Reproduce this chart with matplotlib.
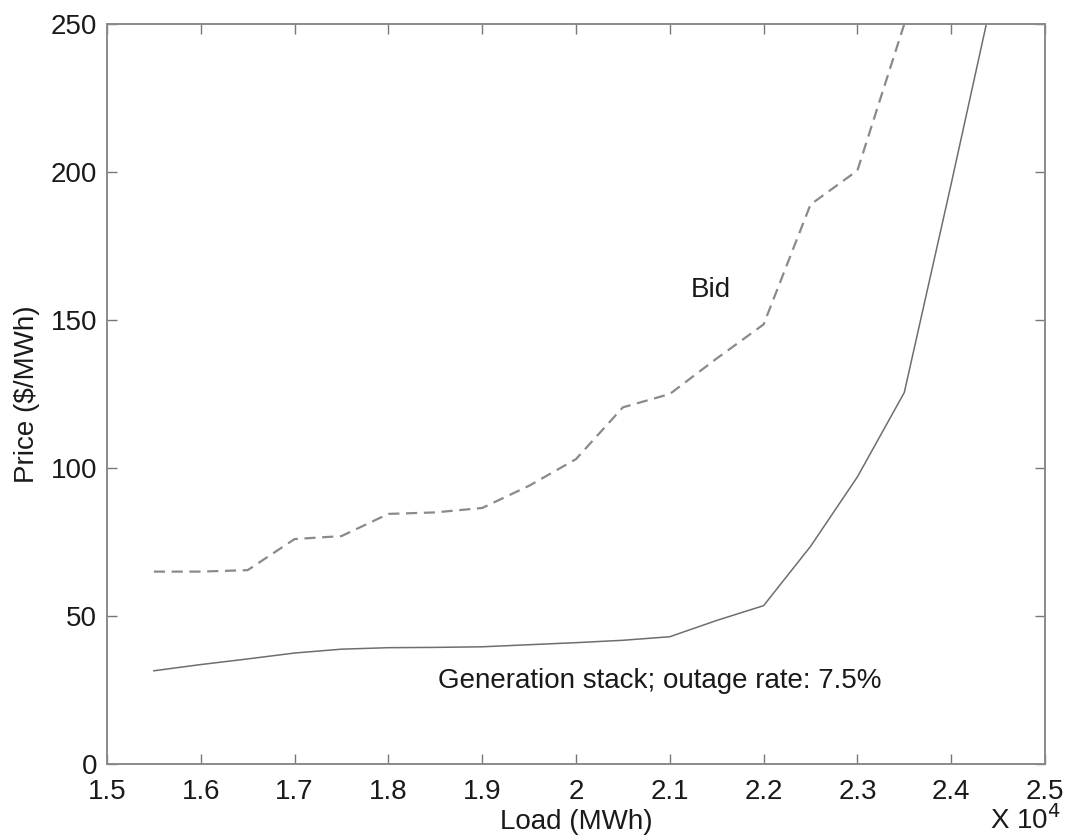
import matplotlib
matplotlib.use('Agg')
import matplotlib.pyplot as plt
from matplotlib.ticker import FuncFormatter

plt.rcParams['font.family'] = ['Liberation Sans', 'DejaVu Sans']

# load in MWh
load = [15500, 16000, 16500, 17000, 17500, 18000, 18500, 19000, 19500,
        20000, 20500, 21000, 21500, 22000, 22500, 23000, 23500, 24000, 24500]
gen_stack = [31.5, 33.6, 35.5, 37.5, 38.8, 39.3, 39.4, 39.6, 40.3,
             41.0, 41.8, 43.0, 48.5, 53.5, 73.5, 97.0, 125.5, 196.0, 268.0]

bid_load = [15500, 16000, 16500, 17000, 17500, 18000, 18500, 19000, 19500,
            20000, 20500, 21000, 21500, 22000, 22500, 23000, 23500]
bid = [65.0, 65.0, 65.5, 76.0, 77.0, 84.5, 85.0, 86.5, 94.0,
       103.0, 120.5, 125.0, 137.0, 148.5, 189.0, 200.5, 250.0]

xticks = [15000, 16000, 17000, 18000, 19000, 20000, 21000, 22000, 23000, 24000, 25000]
yticks = [0, 50, 100, 150, 200, 250]

fig = plt.figure(figsize=(10.73, 8.36), dpi=100)
ax = fig.add_axes([0.0997, 0.0861, 0.8742, 0.8852])

ax.plot(bid_load, bid, color='#8a8a8a', lw=1.6, linestyle=(0, (5, 3)))
ax.plot(load, gen_stack, color='#6e6e6e', lw=1.1)

ax.set_xlim(15000, 25000)
ax.set_ylim(0, 250)
ax.set_xticks(xticks)
ax.set_yticks(yticks)
ax.xaxis.set_major_formatter(FuncFormatter(lambda v, p: '%g' % (v / 1e4)))

ax.tick_params(direction='in', length=7, width=1.0, color='#777777',
               labelsize=20, labelcolor='#1a1a1a', top=True, right=True, pad=7)
ax.tick_params(axis='x', pad=10.5)
for s in ax.spines.values():
    s.set_color('#8a8a8a')
    s.set_linewidth(1.4)

ax.set_xlabel('Load (MWh)', fontsize=20, color='#1a1a1a', labelpad=3)
ax.set_ylabel('Price ($/MWh)', fontsize=20, color='#1a1a1a', labelpad=8)

ax.text(21220, 160, 'Bid', fontsize=20, color='#1a1a1a', va='center')
ax.text(18530, 28, 'Generation stack; outage rate: 7.5%', fontsize=20,
        color='#1a1a1a', va='center')
fig.text(0.956, 0.008, 'X 10$^4$', fontsize=20, color='#1a1a1a',
         ha='center', va='baseline')

fig.savefig('out.png', dpi=100)
